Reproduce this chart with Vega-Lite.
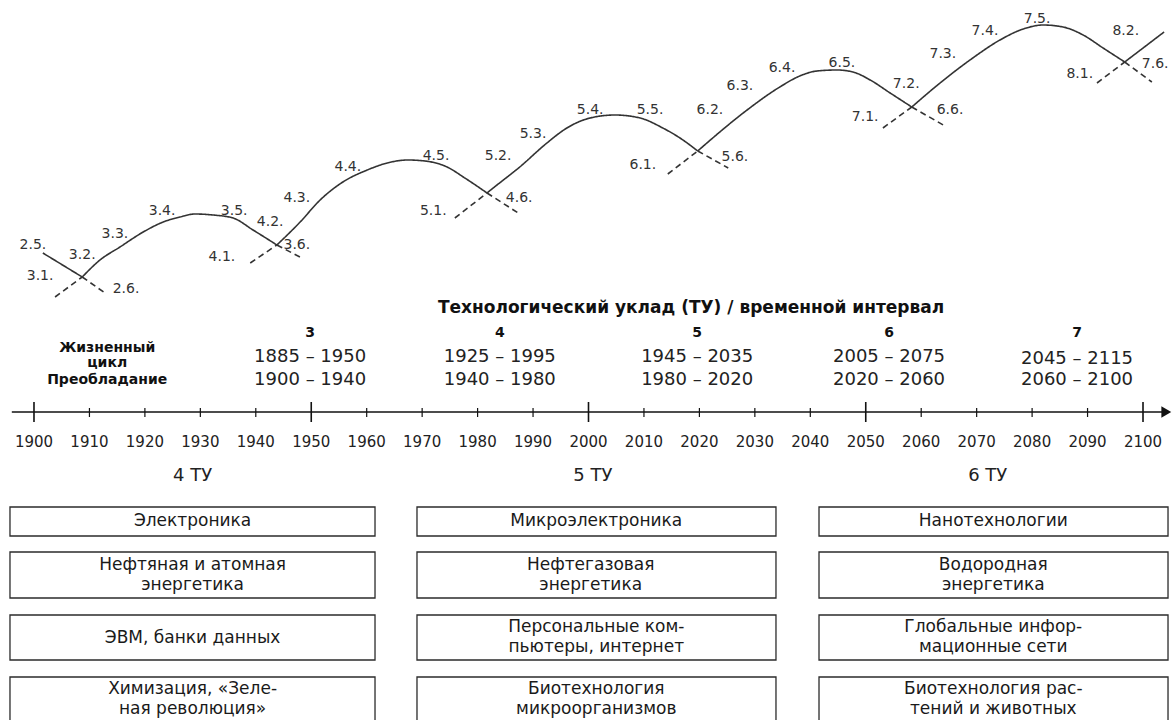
{
  "$schema": "https://vega.github.io/schema/vega-lite/v6.json",
  "description": "Технологические уклады: волны, временные интервалы и ключевые направления 4-6 ТУ.",
  "width": 1176,
  "height": 720,
  "autosize": {"type": "fit", "contains": "padding"},
  "padding": 0,
  "background": "white",
  "config": {"view": {"stroke": null}, "font": "DejaVu Sans"},
  "datasets": {
    "wave": [
      {"seg": "s25", "style": "solid", "o": 1, "x": 1901.6, "y": 253},
      {"seg": "s25", "style": "solid", "o": 2, "x": 1908.7, "y": 277},
      {"seg": "d26", "style": "dashed", "o": 1, "x": 1908.7, "y": 277},
      {"seg": "d26", "style": "dashed", "o": 2, "x": 1912.8, "y": 293},
      {"seg": "d31", "style": "dashed", "o": 1, "x": 1903.8, "y": 297},
      {"seg": "d31", "style": "dashed", "o": 2, "x": 1908.7, "y": 277},
      {"seg": "c3", "style": "solid", "o": 1, "x": 1908.7, "y": 277},
      {"seg": "c3", "style": "solid", "o": 2, "x": 1911.9, "y": 260},
      {"seg": "c3", "style": "solid", "o": 3, "x": 1915.5, "y": 247},
      {"seg": "c3", "style": "solid", "o": 4, "x": 1919.7, "y": 232},
      {"seg": "c3", "style": "solid", "o": 5, "x": 1923.3, "y": 222},
      {"seg": "c3", "style": "solid", "o": 6, "x": 1926.3, "y": 217},
      {"seg": "c3", "style": "solid", "o": 7, "x": 1929.0, "y": 214},
      {"seg": "c3", "style": "solid", "o": 8, "x": 1932.3, "y": 215},
      {"seg": "c3", "style": "solid", "o": 9, "x": 1935.9, "y": 218},
      {"seg": "c3", "style": "solid", "o": 10, "x": 1939.5, "y": 230},
      {"seg": "c3", "style": "solid", "o": 11, "x": 1943.8, "y": 245},
      {"seg": "d36", "style": "dashed", "o": 1, "x": 1943.8, "y": 245},
      {"seg": "d36", "style": "dashed", "o": 2, "x": 1948.3, "y": 258},
      {"seg": "d41", "style": "dashed", "o": 1, "x": 1939.0, "y": 263},
      {"seg": "d41", "style": "dashed", "o": 2, "x": 1943.8, "y": 245},
      {"seg": "c4", "style": "solid", "o": 1, "x": 1943.8, "y": 245},
      {"seg": "c4", "style": "solid", "o": 2, "x": 1948.0, "y": 222},
      {"seg": "c4", "style": "solid", "o": 3, "x": 1951.6, "y": 200},
      {"seg": "c4", "style": "solid", "o": 4, "x": 1955.7, "y": 182},
      {"seg": "c4", "style": "solid", "o": 5, "x": 1960.1, "y": 170},
      {"seg": "c4", "style": "solid", "o": 6, "x": 1963.7, "y": 163},
      {"seg": "c4", "style": "solid", "o": 7, "x": 1967.4, "y": 160},
      {"seg": "c4", "style": "solid", "o": 8, "x": 1970.5, "y": 161},
      {"seg": "c4", "style": "solid", "o": 9, "x": 1974.5, "y": 167},
      {"seg": "c4", "style": "solid", "o": 10, "x": 1977.7, "y": 178},
      {"seg": "c4", "style": "solid", "o": 11, "x": 1981.7, "y": 193},
      {"seg": "d46", "style": "dashed", "o": 1, "x": 1981.7, "y": 193},
      {"seg": "d46", "style": "dashed", "o": 2, "x": 1987.6, "y": 214},
      {"seg": "d51", "style": "dashed", "o": 1, "x": 1975.9, "y": 218},
      {"seg": "d51", "style": "dashed", "o": 2, "x": 1981.7, "y": 193},
      {"seg": "c5", "style": "solid", "o": 1, "x": 1981.7, "y": 193},
      {"seg": "c5", "style": "solid", "o": 2, "x": 1983.5, "y": 185},
      {"seg": "c5", "style": "solid", "o": 3, "x": 1987.6, "y": 167},
      {"seg": "c5", "style": "solid", "o": 4, "x": 1992.5, "y": 143},
      {"seg": "c5", "style": "solid", "o": 5, "x": 1996.1, "y": 128},
      {"seg": "c5", "style": "solid", "o": 6, "x": 2000.3, "y": 118},
      {"seg": "c5", "style": "solid", "o": 7, "x": 2004.8, "y": 115},
      {"seg": "c5", "style": "solid", "o": 8, "x": 2009.3, "y": 118},
      {"seg": "c5", "style": "solid", "o": 9, "x": 2013.4, "y": 128},
      {"seg": "c5", "style": "solid", "o": 10, "x": 2016.5, "y": 138},
      {"seg": "c5", "style": "solid", "o": 11, "x": 2019.7, "y": 151},
      {"seg": "d56", "style": "dashed", "o": 1, "x": 2019.7, "y": 151},
      {"seg": "d56", "style": "dashed", "o": 2, "x": 2025.2, "y": 168},
      {"seg": "d61", "style": "dashed", "o": 1, "x": 2014.3, "y": 174},
      {"seg": "d61", "style": "dashed", "o": 2, "x": 2019.7, "y": 151},
      {"seg": "c6", "style": "solid", "o": 1, "x": 2019.7, "y": 151},
      {"seg": "c6", "style": "solid", "o": 2, "x": 2022.4, "y": 138},
      {"seg": "c6", "style": "solid", "o": 3, "x": 2028.6, "y": 110},
      {"seg": "c6", "style": "solid", "o": 4, "x": 2034.5, "y": 87},
      {"seg": "c6", "style": "solid", "o": 5, "x": 2038.1, "y": 76},
      {"seg": "c6", "style": "solid", "o": 6, "x": 2041.2, "y": 71},
      {"seg": "c6", "style": "solid", "o": 7, "x": 2044.8, "y": 70},
      {"seg": "c6", "style": "solid", "o": 8, "x": 2047.7, "y": 72},
      {"seg": "c6", "style": "solid", "o": 9, "x": 2050.8, "y": 80},
      {"seg": "c6", "style": "solid", "o": 10, "x": 2054.4, "y": 93},
      {"seg": "c6", "style": "solid", "o": 11, "x": 2058.3, "y": 107},
      {"seg": "d66", "style": "dashed", "o": 1, "x": 2058.3, "y": 107},
      {"seg": "d66", "style": "dashed", "o": 2, "x": 2064.3, "y": 126},
      {"seg": "d71", "style": "dashed", "o": 1, "x": 2053.1, "y": 128},
      {"seg": "d71", "style": "dashed", "o": 2, "x": 2058.3, "y": 107},
      {"seg": "c7", "style": "solid", "o": 1, "x": 2058.3, "y": 107},
      {"seg": "c7", "style": "solid", "o": 2, "x": 2063.4, "y": 83},
      {"seg": "c7", "style": "solid", "o": 3, "x": 2069.3, "y": 58},
      {"seg": "c7", "style": "solid", "o": 4, "x": 2074.2, "y": 40},
      {"seg": "c7", "style": "solid", "o": 5, "x": 2078.4, "y": 29},
      {"seg": "c7", "style": "solid", "o": 6, "x": 2082.0, "y": 25},
      {"seg": "c7", "style": "solid", "o": 7, "x": 2085.6, "y": 27},
      {"seg": "c7", "style": "solid", "o": 8, "x": 2089.2, "y": 35},
      {"seg": "c7", "style": "solid", "o": 9, "x": 2092.8, "y": 48},
      {"seg": "c7", "style": "solid", "o": 10, "x": 2096.7, "y": 62},
      {"seg": "d76", "style": "dashed", "o": 1, "x": 2096.7, "y": 62},
      {"seg": "d76", "style": "dashed", "o": 2, "x": 2101.6, "y": 82},
      {"seg": "d81", "style": "dashed", "o": 1, "x": 2091.7, "y": 83},
      {"seg": "d81", "style": "dashed", "o": 2, "x": 2096.7, "y": 62},
      {"seg": "s82", "style": "solid", "o": 1, "x": 2096.7, "y": 62},
      {"seg": "s82", "style": "solid", "o": 2, "x": 2103.8, "y": 32}
    ],
    "waveLabels": [
      {"t": "2.5.", "x": 1899.8, "y": 245},
      {"t": "3.2.", "x": 1908.7, "y": 255},
      {"t": "3.1.", "x": 1901.1, "y": 276},
      {"t": "2.6.", "x": 1916.6, "y": 289},
      {"t": "3.3.", "x": 1914.6, "y": 234},
      {"t": "3.4.", "x": 1923.1, "y": 211},
      {"t": "3.5.", "x": 1936.1, "y": 211},
      {"t": "4.2.", "x": 1942.6, "y": 222},
      {"t": "4.1.", "x": 1933.9, "y": 257},
      {"t": "3.6.", "x": 1947.4, "y": 245},
      {"t": "4.3.", "x": 1947.4, "y": 198},
      {"t": "4.4.", "x": 1956.6, "y": 167},
      {"t": "4.5.", "x": 1972.5, "y": 156},
      {"t": "5.2.", "x": 1983.7, "y": 156},
      {"t": "5.1.", "x": 1972.0, "y": 211},
      {"t": "4.6.", "x": 1987.5, "y": 198},
      {"t": "5.3.", "x": 1990.0, "y": 134},
      {"t": "5.4.", "x": 2000.3, "y": 110},
      {"t": "5.5.", "x": 2011.1, "y": 110},
      {"t": "6.2.", "x": 2021.9, "y": 110},
      {"t": "6.1.", "x": 2009.8, "y": 165},
      {"t": "5.6.", "x": 2026.4, "y": 157},
      {"t": "6.3.", "x": 2027.3, "y": 86},
      {"t": "6.4.", "x": 2034.9, "y": 68},
      {"t": "6.5.", "x": 2045.7, "y": 63},
      {"t": "7.2.", "x": 2057.3, "y": 84},
      {"t": "7.1.", "x": 2049.9, "y": 117},
      {"t": "6.6.", "x": 2065.2, "y": 110},
      {"t": "7.3.", "x": 2063.9, "y": 54},
      {"t": "7.4.", "x": 2071.5, "y": 31},
      {"t": "7.5.", "x": 2080.9, "y": 19},
      {"t": "8.2.", "x": 2096.9, "y": 31},
      {"t": "8.1.", "x": 2088.6, "y": 74},
      {"t": "7.6.", "x": 2102.2, "y": 64}
    ],
    "table": [
      {"kind": "title", "t": "Технологический уклад (ТУ) / временной интервал", "x": 2018.5, "y": 308},
      {"kind": "num", "t": "3", "x": 1949.8, "y": 333},
      {"kind": "num", "t": "4", "x": 1984.0, "y": 333},
      {"kind": "num", "t": "5", "x": 2019.6, "y": 333},
      {"kind": "num", "t": "6", "x": 2054.2, "y": 333},
      {"kind": "num", "t": "7", "x": 2088.1, "y": 333},
      {"kind": "head", "t": "Жизненный", "x": 1913.2, "y": 348},
      {"kind": "head", "t": "цикл", "x": 1913.2, "y": 363},
      {"kind": "head", "t": "Преобладание", "x": 1913.2, "y": 380},
      {"kind": "date", "t": "1885 – 1950", "x": 1949.8, "y": 357},
      {"kind": "date", "t": "1925 – 1995", "x": 1984.0, "y": 357},
      {"kind": "date", "t": "1945 – 2035", "x": 2019.6, "y": 357},
      {"kind": "date", "t": "2005 – 2075", "x": 2054.2, "y": 357},
      {"kind": "date", "t": "2045 – 2115", "x": 2088.1, "y": 359},
      {"kind": "date", "t": "1900 – 1940", "x": 1949.8, "y": 380},
      {"kind": "date", "t": "1940 – 1980", "x": 1984.0, "y": 380},
      {"kind": "date", "t": "1980 – 2020", "x": 2019.6, "y": 380},
      {"kind": "date", "t": "2020 – 2060", "x": 2054.2, "y": 380},
      {"kind": "date", "t": "2060 – 2100", "x": 2088.1, "y": 380}
    ],
    "axisLine": [
      {"x": 1896.0, "x2": 2103.5, "y": 412}
    ],
    "arrow": [
      {"x": 2104.2, "y": 412}
    ],
    "ticks": [
      {"x": 1900, "major": true, "y": 402, "y2": 422, "ly": 442},
      {"x": 1910, "major": false, "y": 408, "y2": 417, "ly": 442},
      {"x": 1920, "major": false, "y": 408, "y2": 417, "ly": 442},
      {"x": 1930, "major": false, "y": 408, "y2": 417, "ly": 442},
      {"x": 1940, "major": false, "y": 408, "y2": 417, "ly": 442},
      {"x": 1950, "major": true, "y": 402, "y2": 422, "ly": 442},
      {"x": 1960, "major": false, "y": 408, "y2": 417, "ly": 442},
      {"x": 1970, "major": false, "y": 408, "y2": 417, "ly": 442},
      {"x": 1980, "major": false, "y": 408, "y2": 417, "ly": 442},
      {"x": 1990, "major": false, "y": 408, "y2": 417, "ly": 442},
      {"x": 2000, "major": true, "y": 402, "y2": 422, "ly": 442},
      {"x": 2010, "major": false, "y": 408, "y2": 417, "ly": 442},
      {"x": 2020, "major": false, "y": 408, "y2": 417, "ly": 442},
      {"x": 2030, "major": false, "y": 408, "y2": 417, "ly": 442},
      {"x": 2040, "major": false, "y": 408, "y2": 417, "ly": 442},
      {"x": 2050, "major": true, "y": 402, "y2": 422, "ly": 442},
      {"x": 2060, "major": false, "y": 408, "y2": 417, "ly": 442},
      {"x": 2070, "major": false, "y": 408, "y2": 417, "ly": 442},
      {"x": 2080, "major": false, "y": 408, "y2": 417, "ly": 442},
      {"x": 2090, "major": false, "y": 408, "y2": 417, "ly": 442},
      {"x": 2100, "major": true, "y": 402, "y2": 422, "ly": 442}
    ],
    "tuHeads": [
      {"t": "4 ТУ", "x": 1928.6, "y": 476},
      {"t": "5 ТУ", "x": 2000.8, "y": 476},
      {"t": "6 ТУ", "x": 2072.0, "y": 476}
    ],
    "boxes": [
      {"tu": 4, "row": 1, "x": 1895.67, "x2": 1961.5, "y": 507, "y2": 536},
      {"tu": 4, "row": 2, "x": 1895.67, "x2": 1961.5, "y": 552, "y2": 598},
      {"tu": 4, "row": 3, "x": 1895.67, "x2": 1961.5, "y": 615, "y2": 660},
      {"tu": 4, "row": 4, "x": 1895.67, "x2": 1961.5, "y": 677, "y2": 726},
      {"tu": 5, "row": 1, "x": 1969.07, "x2": 2033.81, "y": 507, "y2": 536},
      {"tu": 5, "row": 2, "x": 1969.07, "x2": 2033.81, "y": 552, "y2": 598},
      {"tu": 5, "row": 3, "x": 1969.07, "x2": 2033.81, "y": 615, "y2": 660},
      {"tu": 5, "row": 4, "x": 1969.07, "x2": 2033.81, "y": 677, "y2": 726},
      {"tu": 6, "row": 1, "x": 2041.57, "x2": 2104.51, "y": 507, "y2": 536},
      {"tu": 6, "row": 2, "x": 2041.57, "x2": 2104.51, "y": 552, "y2": 598},
      {"tu": 6, "row": 3, "x": 2041.57, "x2": 2104.51, "y": 615, "y2": 660},
      {"tu": 6, "row": 4, "x": 2041.57, "x2": 2104.51, "y": 677, "y2": 726}
    ],
    "boxText": [
      {"t": "Электроника", "x": 1928.6, "y": 521},
      {"t": "Нефтяная и атомная", "x": 1928.6, "y": 565},
      {"t": "энергетика", "x": 1928.6, "y": 585},
      {"t": "ЭВМ, банки данных", "x": 1928.6, "y": 638},
      {"t": "Химизация, «Зеле-", "x": 1928.6, "y": 689},
      {"t": "ная революция»", "x": 1928.6, "y": 709},
      {"t": "Микроэлектроника", "x": 2001.4, "y": 521},
      {"t": "Нефтегазовая", "x": 2000.4, "y": 565},
      {"t": "энергетика", "x": 2000.4, "y": 585},
      {"t": "Персональные ком-", "x": 2001.4, "y": 627},
      {"t": "пьютеры, интернет", "x": 2001.4, "y": 647},
      {"t": "Биотехнология", "x": 2001.4, "y": 689},
      {"t": "микроорганизмов", "x": 2001.4, "y": 709},
      {"t": "Нанотехнологии", "x": 2073.0, "y": 521},
      {"t": "Водородная", "x": 2073.0, "y": 565},
      {"t": "энергетика", "x": 2073.0, "y": 585},
      {"t": "Глобальные инфор-", "x": 2073.0, "y": 627},
      {"t": "мационные сети", "x": 2073.0, "y": 647},
      {"t": "Биотехнология рас-", "x": 2073.0, "y": 689},
      {"t": "тений и животных", "x": 2073.0, "y": 709}
    ]
  },
  "encoding": {
    "x": {"field": "x", "type": "quantitative", "scale": {"domain": [1893.87, 2105.95], "nice": false, "zero": false}, "axis": null},
    "y": {"field": "y", "type": "quantitative", "scale": {"domain": [0, 720], "nice": false, "zero": false, "reverse": true}, "axis": null}
  },
  "layer": [
    {
      "data": {"name": "boxes"},
      "mark": {"type": "rect", "fill": "white", "stroke": "#2b2b2b", "strokeWidth": 1.3, "clip": true},
      "encoding": {"x2": {"field": "x2"}, "y2": {"field": "y2"}}
    },
    {
      "data": {"name": "wave"},
      "mark": {"type": "line", "interpolate": "monotone", "color": "#333333", "strokeWidth": 1.6},
      "encoding": {
        "detail": {"field": "seg"},
        "order": {"field": "o", "type": "quantitative"},
        "strokeDash": {"field": "style", "type": "nominal", "scale": {"domain": ["solid", "dashed"], "range": [[1, 0], [6, 4]]}, "legend": null}
      }
    },
    {
      "data": {"name": "waveLabels"},
      "mark": {"type": "text", "fontSize": 14, "color": "#333333"},
      "encoding": {"text": {"field": "t"}}
    },
    {
      "data": {"name": "table"},
      "transform": [{"filter": "datum.kind == 'title'"}],
      "mark": {"type": "text", "fontSize": 17, "fontWeight": "bold", "color": "#111111"},
      "encoding": {"text": {"field": "t"}}
    },
    {
      "data": {"name": "table"},
      "transform": [{"filter": "datum.kind == 'num'"}],
      "mark": {"type": "text", "fontSize": 14, "fontWeight": "bold", "color": "#111111"},
      "encoding": {"text": {"field": "t"}}
    },
    {
      "data": {"name": "table"},
      "transform": [{"filter": "datum.kind == 'head'"}],
      "mark": {"type": "text", "fontSize": 14, "fontWeight": "bold", "color": "#111111"},
      "encoding": {"text": {"field": "t"}}
    },
    {
      "data": {"name": "table"},
      "transform": [{"filter": "datum.kind == 'date'"}],
      "mark": {"type": "text", "fontSize": 18, "color": "#222222"},
      "encoding": {"text": {"field": "t"}}
    },
    {
      "data": {"name": "axisLine"},
      "mark": {"type": "rule", "color": "#111111", "strokeWidth": 1.3},
      "encoding": {"x2": {"field": "x2"}}
    },
    {
      "data": {"name": "arrow"},
      "mark": {"type": "point", "shape": "triangle-right", "filled": true, "color": "#111111", "size": 130, "opacity": 1}
    },
    {
      "data": {"name": "ticks"},
      "transform": [{"filter": "datum.major"}],
      "mark": {"type": "rule", "color": "#111111", "strokeWidth": 1.6},
      "encoding": {"y2": {"field": "y2"}}
    },
    {
      "data": {"name": "ticks"},
      "transform": [{"filter": "!datum.major"}],
      "mark": {"type": "rule", "color": "#111111", "strokeWidth": 1.2},
      "encoding": {"y2": {"field": "y2"}}
    },
    {
      "data": {"name": "ticks"},
      "mark": {"type": "text", "fontSize": 15, "color": "#222222"},
      "encoding": {"y": {"field": "ly", "type": "quantitative"}, "text": {"field": "x", "type": "quantitative", "format": "d"}}
    },
    {
      "data": {"name": "tuHeads"},
      "mark": {"type": "text", "fontSize": 18, "color": "#222222"},
      "encoding": {"text": {"field": "t"}}
    },
    {
      "data": {"name": "boxText"},
      "mark": {"type": "text", "fontSize": 17, "color": "#1a1a1a"},
      "encoding": {"text": {"field": "t"}}
    }
  ]
}
